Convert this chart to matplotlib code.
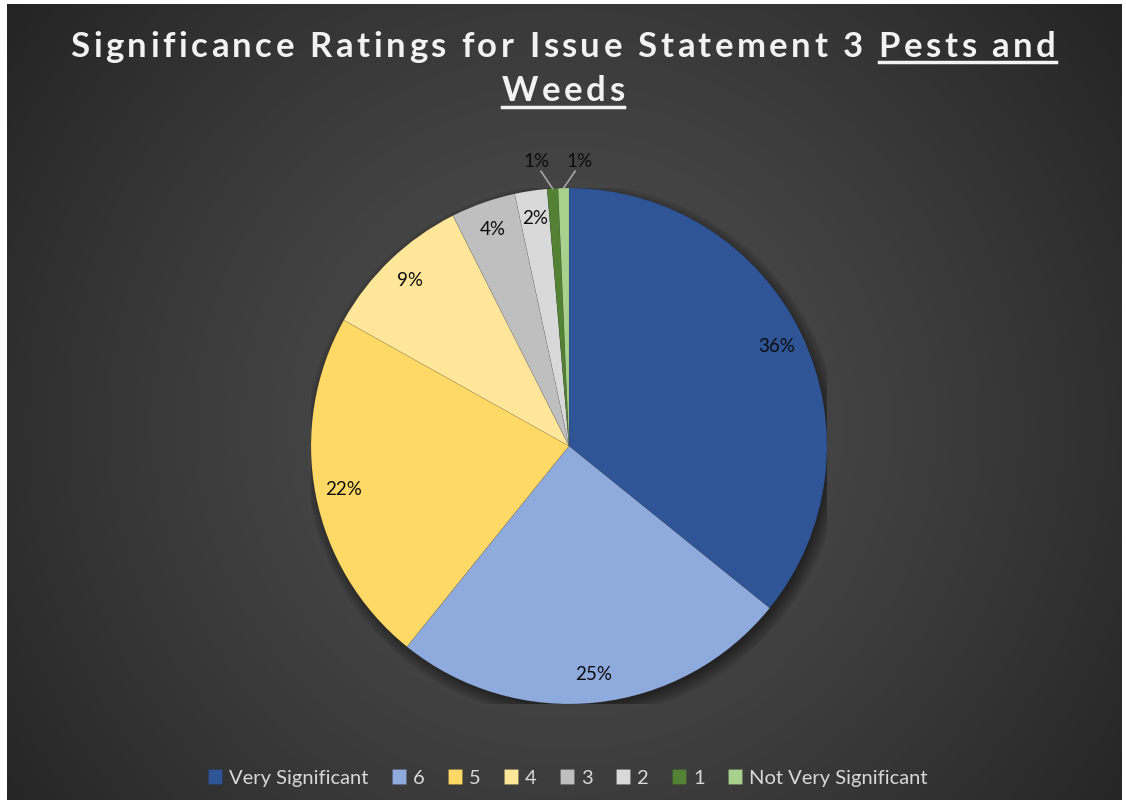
import numpy as np
import matplotlib.pyplot as plt
from matplotlib.patches import Circle

# counts per rating
categories = ['Very Significant', '6', '5', '4', '3', '2', '1', 'Not Very Significant']
counts = [53, 37, 33, 14, 6, 3, 1, 1]
colours = ['#2F5597', '#8FAADC', '#FFD966', '#FFE699', '#BFBFBF', '#D9D9D9', '#548235', '#A9D18E']
title_main = 'Significance Ratings for Issue Statement 3 '
title_under1 = 'Pests and'
title_under2 = 'Weeds'

W, H = 1126, 800
plt.rcParams['font.family'] = ['Lato', 'DejaVu Sans']
fig = plt.figure(figsize=(W/100, H/100), dpi=100, facecolor='white')

# dark radial background
bg = fig.add_axes([7/W, 0, (1122-7)/W, (800-4)/H])
bg.set_axis_off()
yy, xx = np.mgrid[0:796, 0:1115]
d = np.hypot(xx - 558, yy - 420)
d = d / d.max()
v = 0.31 - 0.17*d**1.3
img = np.dstack([v, v, v])
bg.imshow(img, aspect='auto', extent=[0, 1, 0, 1], origin='upper')
bg.set_xlim(0, 1)
bg.set_ylim(0, 1)

# pie axes, centre at (569, 446) px, radius 258 px
R = 258
ax = fig.add_axes([(569-R)/W, (H-446-R)/H, 2*R/W, 2*R/H])
ax.set_axis_off()

for i in range(10):
    ax.add_patch(Circle((0.014, -0.02), 0.985 + i*0.006, color='black', alpha=0.05, lw=0, zorder=0))

total = sum(counts)
wedges, texts = ax.pie(counts, colors=colours, startangle=90, counterclock=False,
                       radius=1, wedgeprops=dict(linewidth=0.4, edgecolor='#00000022'))
for w in wedges:
    w.set_zorder(2)
ax.set_xlim(-1, 1)
ax.set_ylim(-1, 1)

for i, w in enumerate(wedges):
    pct = '%d%%' % round(100*counts[i]/total)
    a = np.deg2rad((w.theta1 + w.theta2)/2)
    if counts[i] / total > 0.015:
        ax.text(0.89*np.cos(a), 0.89*np.sin(a), pct, ha='center', va='center',
                fontsize=13.5, color='#0d0d0d', zorder=3)
    else:
        sx, sy = np.cos(a), np.sin(a)
        off = -0.045 if i == len(counts) - 2 else 0.045
        ex, ey = sx + off, 1.065
        ax.plot([sx, ex], [sy, ey], color='#a6a6a6', lw=1.2, zorder=3, clip_on=False)
        ax.text(ex + off*0.35, ey + 0.005, pct, ha='center', va='bottom',
                fontsize=13.5, color='#0d0d0d', zorder=3)

# title, letter-spaced, with underlined part
tkw = dict(fontsize=25, fontweight='bold', color='#f2f2f2')
r = fig.canvas.get_renderer()

def width(s):
    if not s:
        return 0
    t = fig.text(0, 0, s + '|', **tkw)
    t2 = fig.text(0, 0, '|', **tkw)
    w = t.get_window_extent(r).width - t2.get_window_extent(r).width
    t.remove()
    t2.remove()
    return w

def spaced(s, xc, yb, gap):
    wtot = width(s) + gap*(len(s) - 1)
    x0 = xc - wtot/2
    for i, ch in enumerate(s):
        if ch != ' ':
            fig.text((x0 + width(s[:i]) + gap*i)/W, yb/H, ch, va='baseline', ha='left', **tkw)
    return x0, x0 + wtot

gap = 3.5
line1 = title_main + title_under1
x0, x1 = spaced(line1, 563, H - 57, gap)
ux0 = x0 + width(title_main) + gap*len(title_main)
fig.add_artist(plt.Line2D([ux0/W, x1/W], [1 - 62/H, 1 - 62/H], color='#f2f2f2', lw=2.5))
x0, x1 = spaced(title_under2, 563, H - 101, gap)
fig.add_artist(plt.Line2D([x0/W, x1/W], [1 - 107/H, 1 - 107/H], color='#f2f2f2', lw=2.5))

leg = fig.legend(wedges, categories, loc='center', bbox_to_anchor=(568/W, 1 - 778/H), ncol=8,
                 frameon=False, handlelength=0.7, handleheight=0.7, handletextpad=0.35,
                 columnspacing=1.15, fontsize=14.5, labelcolor='#d9d9d9')

fig.savefig('out.png', dpi=100, facecolor='white')
